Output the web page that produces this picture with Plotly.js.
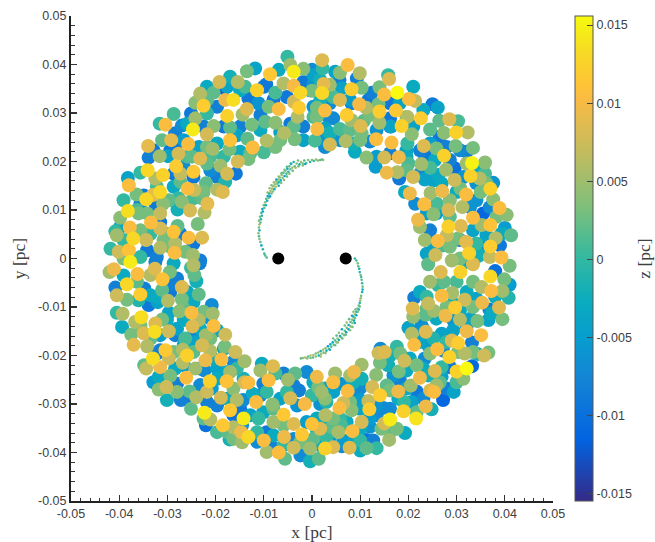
<!DOCTYPE html>
<html><head><meta charset="utf-8">
<script src="https://cdn.plot.ly/plotly-3.0.1.min.js"></script>
<style>html,body{margin:0;padding:0;background:#fff}#g{width:655px;height:542px}</style>
</head><body><div id="g"></div>
<script>
// All coordinates in milli-parsec
const nwX=[-5.1,-4.5,-3.8,-1.8,-11.8,-13.5,-8.7,-6.9,-17.0,-19.2,
-15.4,-18.3,-20.4,-23.2,-24.2,-22.5,-18.0,-16.3,-11.4,-9.5,
-7.6,-5.9,-3.8,-2.4,-1.8,-3.8,-2.7,-3.0,-6.9,-9.0,-11.1,-13.5,-14.4,-17.6,-12.5,-9.7,-7.6,-5.8,-3.6,-1.8,
-28.7,-25.1,-24.2,-27.0,-24.7,-30.4,-31.6,-20.4,-21.8,-17.0,
-31.1,-29.2,-34.0,-25.7,-26.6,-23.5,-20.6,-17.0,-17.1,-13.4,
-12.3,-9.4,-7.6,-10.0,-33.9,-31.6,-29.9,-27.7,-23.2,-24.9,
-28.2,-34.1,-35.6,-30.9,-32.5,-27.3,-24.6,-21.1,-19.0,-15.4,
-13.2,-17.6,-15.8,-18.0,-22.0,-24.6,-27.3,-28.7,-25.8,-24.4,
-18.5,-19.7,-38.2,-38.0,-36.4,-31.5,-33.0,-34.4,-39.1,-35.6,
-30.9,-27.0,-24.6,-22.8,-21.7,-27.9,-25.3,-22.3,-31.5,-38.2,
-39.8,-36.0,-32.2,-33.4,-23.7,-27.9,-37.8,-31.5,-28.7,-40.8,
-40.5,-37.1,-34.4,-25.6,-22.8,-30.8,-41.8,-40.1,-38.0,-35.6,
-31.5,-28.4,-28.5,-32.2,-26.3,-24.7,-23.2];
const nwY=[41.6,39.9,38.5,39.1,39.2,38.6,38.0,38.9,37.5,36.4,
36.4,35.1,34.2,34.0,32.1,31.5,32.7,32.7,34.7,35.9,
34.2,36.1,35.6,34.2,36.4,32.3,31.1,29.2,30.8,31.3,32.0,30.8,29.7,29.4,27.6,28.2,28.0,25.9,24.6,27.2,
29.8,29.9,28.9,27.4,26.6,27.6,27.8,27.3,25.6,27.0,
24.4,24.4,23.2,23.6,24.4,23.0,22.6,24.4,22.5,24.7,
22.9,24.3,23.0,21.9,20.8,21.1,21.1,21.6,20.6,21.0,
19.0,18.2,17.7,17.2,16.5,17.5,17.9,18.2,19.1,20.0,
20.5,17.5,17.5,15.8,15.5,16.8,15.8,14.8,14.4,14.1,
13.7,14.2,16.6,15.1,13.2,13.7,13.1,12.2,12.0,11.3,
11.3,11.7,12.4,12.4,11.3,10.1,9.9,9.5,9.3,9.8,
8.4,9.3,10.3,7.4,7.1,6.7,6.4,6.2,5.5,5.6,
4.8,4.1,3.8,4.3,4.3,3.8,2.0,1.4,1.7,0.3,
2.2,3.1,1.2,0.3,1.4,0.7,-0.4];
const nwZ=[0,5,14.5,4,-4,3,11.5,-3,-2,8,
6,-12,2,6,4,12,9.5,13.5,12.5,-9,
1,6,10,13,-9,8,12,6,10.5,3,-6,8.5,5,12.5,3,2,4,6,3,-8,
1,-9,5,-7,14.5,10.5,0,4,8,2,
2,9,9,10.5,-5,-4,5,11,3,2,
10.5,6,3,1,-8,5,-4,8,8.5,2,
12,13,0,12.5,6,7,11.5,-7,5,8,
3,8,-9,-1,2,-9,2,-3,10.5,7,
8.5,6,-4,10.5,3,13,9,13,0,-8,
4,4,1,2,9,-2,8,6,7,13.5,
4,3,-9,10.5,3,2,10.5,8,11,0,
5,13,7.5,10.5,8.5,3,0,7.5,11,0,
6,6,10.5,-8,3,5,-8];

const neX=[2.1,2.2,7.4,5.8,4.8,9.9,5.7,15.8,16.0,9.3,
21.0,17.7,15.0,14.0,12.4,10.3,8.2,3.7,2.4,2.1,
0,0.3,6.2,5.8,9.8,11.2,20.1,21.4,13.8,17.4,
14.0,2.7,1.0,3.4,0.3,7.2,8.2,10.8,10.1,10.3,
1.1,2.7,5.8,0.6,3.7,2.7,7.0,8.9,10.0,11.3,
13.3,12.0,14.0,16.4,16.2,18.6,19.8,22.6,20.7,25.0,
26.1,26.4,28.5,30.3,24.5,27.4,29.9,32.3,23.2,25.8,
29.8,33.4,16.5,19.8,15.0,18.0,19.6,13.2,23.4,27.4,
32.1,33.2,32.1,35.9,22.7,20.0,24.5,15.5,17.7,18.1,
21.0,23.4,26.2,27.8,29.6,32.9,34.8,35.9,29.6,37.6,
30.8,37.0,35.0,24.6,27.0,32.0,20.3,19.3,21.4,23.3,
25.9,37.6,28.6,28.3,31.2,25.2,35.5,38.9,40.4,33.4,
22.0,22.4,30.9,28.3,35.2,37.0,24.5,40.0,41.3,23.4,
26.1,28.0,30.3,32.0,34.1,36.2,38.1,37.0,39.0,23.8,
25.6,27.2,32.6,34.8,39.3,36.9,29.0,30.7];
const neY=[40.9,39.2,39.9,38.3,38.5,38.2,36.8,37.8,37.0,37.1,
35.4,34.2,33.8,35.3,34.2,35.2,34.9,35.8,36.0,34.1,
34.6,37.8,35.1,32.7,31.8,31.1,32.9,32.5,31.8,30.5,
30.3,30.5,31.1,29.2,29.2,29.6,28.5,28.4,27.3,25.8,
26.7,26.8,26.7,24.3,23.5,23.0,24.2,22.0,24.4,20.8,
24.6,24.1,28.0,27.2,28.9,27.3,29.2,28.9,25.6,31.8,
31.1,28.4,28.7,28.3,26.6,25.9,26.0,26.0,23.2,22.7,
23.2,22.8,23.9,23.7,20.8,20.9,22.3,18.9,21.3,21.2,
22.0,19.7,19.6,19.8,19.5,19.6,18.7,17.7,17.8,16.5,
16.8,16.3,17.2,18.3,18.6,17.0,16.5,17.5,16.2,15.6,
14.4,14.4,13.7,13.5,13.9,13.2,13.4,13.7,11.3,11.2,
11.3,12.2,12.0,10.0,10.6,9.1,9.3,10.4,9.0,8.4,
8.0,6.5,6.7,6.6,6.9,6.9,5.8,6.3,4.8,3.8,
3.6,4.8,4.1,3.4,3.1,4.8,4.2,2.5,2.7,1.0,
0.7,2.7,1.1,0.7,0.2,0.3,-0.4,0];
const neZ=[8.5,0,10.5,4,-4,6,-8,0,8.5,-8,
-3,15.5,10.5,3,-8,3,12,5,9,13,
3,-4,-4,8.5,10,6,10.5,7,3,11.5,
12,10.5,3,-7,1,12,5,2,8.5,3,
10.5,-4,1,1,8,-7,6,-3,3,4,
10.5,-7,5,-4,-9,12.5,6,12,4,-9,
-4,2,8.5,1,2,4,12.5,6,8.5,3,
3,3,10.5,0,8,9.5,-4,-5,-9,12.5,
-8,15,5,4,5,1,1,9.5,6,-9,
8,-4,-3,5,-10,12.5,6,1,7.5,-6,
3,12.5,3,5,9.5,10.5,9.5,-3,-7,10.5,
1,4,4,8,6,4,-11,10.5,4,10.5,
9.5,5,8.5,12.5,5,11,-8,-5,2,5,
10.5,7,3,9,0,-4,6,12,-9,-4,
7.5,1,12.5,-2,10.5,7,5,3];

const swX=[-37.7,-41.1,-42.0,-39.1,-36.2,-32.6,-33.5,-29.5,-31.0,-24.6,
-23.3,-24.4,-25.1,-38.4,-40.8,-34.8,-35.6,-40.5,-38.4,-36.0,
-28.8,-27.0,-31.1,-24.0,-23.5,-29.9,-27.0,-32.0,-33.9,-29.7,
-20.8,-40.5,-39.3,-20.6,-25.0,-27.5,-35.4,-36.7,-32.5,-31.1,
-39.4,-26.6,-24.8,-23.5,-20.4,-29.7,-32.6,-34.9,-37.5,-22.0,
-18.0,-28.4,-26.3,-37.0,-34.2,-19.7,-24.2,-22.8,-18.1,-30.4,
-26.8,-15.9,-21.1,-31.5,-25.9,-33.0,-29.7,-34.8,-34.4,-31.5,
-26.8,-22.1,-18.8,-14.0,-19.7,-24.2,-17.0,-15.6,-10.4,-8.1,
-10.7,-31.8,-29.4,-26.1,-22.3,-21.2,-17.7,-13.2,-14.0,-9.0,
-10.1,-7.6,-5.9,-5.0,-3.5,-1.1,1.0,-31.8,-30.2,-28.0,
-30.1,-25.4,-27.2,-24.0,-21.8,-16.3,-18.9,-15.6,-14.3,-25.1,
-12.3,-11.6,-8.2,-9.4,-4.5,-1.5,-2.7,-5.2,0,2.0,
-22.3,-17.0,-21.1,-14.2,-12.8,-11.1,-5.9,-3.8,0,-8.0,
-22.0,-18.5,-19.7,-16.3,-17.1,-14.7,-13.2,-14.5,-10.0,-11.4,
-5.8,-2.1,1.0,-9.4,-6.9,-8.3,-3.8,-5.6,-2.4,-0.4,
-0.4,1.4,-5.9];
const swY=[-0.7,-2.2,-2.8,0,-3.2,-2.1,-3.4,-2.8,-4.3,-1.4,
-1.0,-3.4,-1.9,-5.3,-6.0,-6.2,-7.4,-7.6,-8.5,-8.6,
-5.3,-5.9,-6.5,-4.7,-7.4,-8.7,-8.4,-9.0,-9.6,-11.2,
-9.6,-11.2,-11.4,-11.4,-11.2,-10.9,-12.1,-13.1,-13.4,-12.6,
-14.1,-12.7,-14.0,-12.7,-13.9,-15.0,-15.1,-15.4,-15.7,-15.8,
-15.7,-15.8,-16.5,-17.8,-18.1,-14.8,-17.2,-17.9,-18.2,-18.9,
-18.8,-19.3,-19.1,-18.9,-20.0,-20.6,-20.6,-22.0,-22.7,-22.4,
-21.5,-21.0,-20.8,-21.2,-22.7,-22.7,-23.4,-22.7,-21.7,-22.2,
-23.1,-24.4,-24.2,-24.6,-23.1,-25.3,-25.3,-25.6,-25.5,-25.1,
-25.8,-23.7,-23.7,-25.0,-23.7,-23.4,-24.4,-27.0,-26.5,-27.5,
-29.2,-27.4,-29.2,-28.6,-27.5,-26.8,-28.7,-29.2,-29.2,-31.0,
-27.9,-29.6,-30.1,-27.5,-28.8,-30.0,-27.2,-27.5,-28.2,-27.5,
-31.8,-31.3,-33.2,-33.0,-32.3,-33.0,-32.2,-34.1,-34.1,-33.7,
-34.4,-34.4,-35.8,-34.8,-37.3,-35.8,-36.8,-37.9,-37.5,-35.8,
-36.8,-36.3,-35.4,-39.9,-40.0,-38.9,-39.0,-41.3,-40.6,-39.2,
-41.8,-41.3,-38.5];
const swZ=[14.5,9.5,5,3,10.5,8.5,6,3,11,6,
-8,2,0,13,-8,-8,12,7.5,3,-1,
-8,8.5,2,-2,2,6,3,-4,-9,-4,
-7,0,6,5,10.5,4,13.5,6,8.5,3,
-3,-3,8.5,6,10.5,7.5,13.5,8.5,3,5,
7.5,-8,1,9,6,-4,-4,8,3,11.5,
6,7.5,6,-8,12.5,13.5,7.5,2,7,9.5,
6,9.5,10.5,5,-4,5,5,0,-3,8.5,
5,-3,3,10.5,-7,12.5,11,10.5,8,10.5,
-8,1,-8,5,2,-7,9.5,4,7.5,4,
-2,2,-8,6,7.5,4,8,6,-7,2,
-3,10.5,4,0,8,10,-8,0,0,5,
14.5,11.5,6,14.5,-4,0,11.5,8.5,11,5,
-10,11.5,1,6,-2,9.5,13,5,10.5,0,
9.5,11.5,0,5,10.5,-8,7.5,2,-7,5,
-2,2,0];

const seX=[41.0,33.4,30.8,26.7,24.1,24.5,27.4,37.0,38.0,39.9,
41.0,39.5,40.8,37.2,35.2,33.4,31.7,29.1,26.9,23.8,
24.1,21.2,29.7,25.3,23.6,20.9,21.0,27.7,30.7,35.3,
38.8,36.8,39.5,36.6,34.3,32.9,20.0,20.7,23.1,23.6,
25.2,21.2,29.3,32.1,35.1,33.2,27.9,30.3,29.0,14.2,
15.1,13.8,14.1,17.6,18.3,19.2,15.8,21.7,18.0,26.0,
24.5,23.4,31.7,28.5,34.3,36.6,35.7,26.9,25.5,33.2,
30.0,32.1,31.4,10.3,8.7,4.8,7.9,4.4,10.3,13.3,
22.4,18.2,20.5,10.0,12.5,7.4,25.8,24.5,25.3,21.7,
29.4,27.2,17.9,16.2,14.1,2.7,10.0,6.5,5.7,8.2,
11.7,11.9,14.8,19.1,23.6,24.8,19.0,21.7,21.6,2.8,
16.2,15.0,10.3,12.0,5.8,4.1,1.7,5.5,8.4,17.6,
19.3,16.0,2.0,2.7,4.4,6.2,7.8,11.2,12.7,11.3,
10.0,13.4,10.0,3.0];
const seY=[-1.5,-1.2,-2.8,-2.8,-1.2,-4.8,-4.8,-3.7,-2.6,-4.3,
-5.4,-6.7,-8.1,-6.7,-5.9,-4.8,-8.5,-7.1,-7.7,-7.9,
-9.3,-8.1,-10.1,-10.8,-11.6,-10.3,-12.0,-11.8,-12.6,-9.1,
-10.1,-10.5,-12.5,-12.7,-12.9,-12.4,-14.3,-15.5,-14.6,-15.1,
-16.5,-17.8,-14.8,-15.0,-15.8,-17.3,-17.2,-17.4,-16.9,-18.6,
-19.3,-19.5,-21.5,-18.2,-19.6,-21.1,-22.0,-22.0,-23.3,-18.7,
-19.6,-20.6,-19.6,-20.3,-19.7,-19.4,-20.0,-22.4,-23.2,-22.2,
-23.3,-22.7,-24.8,-21.9,-23.4,-23.7,-24.1,-25.5,-24.8,-24.0,
-24.6,-25.1,-26.2,-26.7,-26.5,-27.3,-26.2,-27.2,-27.5,-27.4,
-27.5,-29.2,-27.4,-27.2,-28.2,-28.9,-29.2,-29.8,-30.8,-31.3,
-29.4,-31.1,-30.8,-29.6,-30.5,-31.1,-31.5,-31.7,-33.0,-32.3,
-33.2,-34.0,-33.7,-34.7,-33.0,-34.8,-35.1,-35.8,-35.6,-35.1,
-36.0,-37.4,-37.5,-39.2,-38.9,-38.7,-39.0,-37.4,-37.5,-39.1,
-39.6,-39.1,-37.5,-36.8];
const seZ=[3,8.5,12.5,8.5,2,5,2,13,-10,3,
-5,5,-1,10.5,6,3,7.5,5.5,10.5,0,
7,-8,12,5,2,8.5,4.5,9.5,6,9.5,
8.5,-8,3,-4,3,-4,-4,6,-6,8.5,
-1,10.5,-4,9.5,10.5,-8,0,12,8.5,-7,
8.5,7.5,3,0,3,7.5,-2,3,3,10.5,
4,-7,6,12.5,-2,3,7.5,0,8.5,-11,
12.5,15.5,4,5,9.5,5,5.5,10.5,-2,4,
9.5,-8,5,-7,8,10.5,5,8.5,10.5,-9,
-4,-11,9.5,3,12,4,-5,7.5,10.5,4,
7,12,-7,0,9.5,-2,12.5,2,14,6,
14.5,8,8,-6,0,2,8.5,5.5,10.5,3,
-3,5,-3,12.5,8.5,-7,8.5,-10,-8,2,
-3,0,0,0];

// Discs mostly hidden under the others: only slivers of them show
const nwHiddenX=[-13.9,-10.0,-13.2,-21.8,-22.5,-18.3,-25.9,-29.4,-21.1,-18.3,
-15.6,-10.7,-6.6,-21.8,-19.7,-22.5,-32.2,-34.9,-28.7,-32.5,
-36.3,-27.7,-29.7,-34.2,-31.5,-35.6,-33.5,-30.1,-39.8,-37.3,
-29.4,-27.3,-24.6,-34.2,-39.1,-32.9,-28.0,-19.7,-14.9,-4.5,
-10.7,-8.0,-14.9,-17.6,-21.8,-19.7,-21.8,-25.9,-28.4,-21.8,
-26.6,-5.2,-0.4,0.3,1.0,0,-6.6,-3.8,-1.8,-12.8,-14.9];
const nwHiddenY=[35.4,35.4,33.0,29.9,27.2,27.2,21.0,22.3,21.0,21.0,
25.4,26.5,26.1,19.6,16.8,13.7,14.8,13.0,17.5,11.3,
10.0,12.4,12.0,9.3,7.5,5.8,5.1,5.1,6.5,5.8,
2.4,5.1,3.1,1.7,3.8,22.3,23.7,23.7,27.2,27.8,
29.6,32.7,34.7,35.4,35.4,31.3,32.7,27.8,25.8,23.0,
18.9,33.3,34.7,31.3,29.2,38.9,24.4,27.2,24.4,21.7,22.0];
const nwHiddenZ=[1,-9,-9,0,-8,-9,1,-9,1,0,
-4,-3,-4,2,-8,3,1,-9,-9,-9,
1,0,2,3,-9,3,0,3,-4,3,
3,-9,-9,-9,0,-9,-9,-3,-8,-9,
-8,-9,-3,-4,-3,-8,2,-3,-8,3,
-7,-9,-8,-6,3,-7,3,2,-4,2,-3];

const neHiddenX=[0.3,4.4,8.2,11.7,16.2,18.2,12.0,16.2,19.6,23.1,
21.0,24.5,26.5,27.9,22.4,19.6,13.4,16.2,25.5,28.6,
30.7,34.8,31.4,25.2,19.6,22.4,26.9,30.0,34.1,36.2,
34.1,36.9,32.8,25.8,23.8,28.6,33.4,30.7,28.6,34.1,
38.3,39.3,35.5,25.2,8.6,5.8,2.0,3.7,7.9,13.4,
4.4,7.9,3.7,1.7,1.7];
const neHiddenY=[36.1,33.3,32.0,32.7,32.0,32.0,29.6,27.2,29.2,30.6,
27.2,23.7,25.1,23.0,22.3,21.0,21.0,21.7,20.3,20.3,
22.3,18.2,16.8,16.1,18.2,17.5,15.5,13.7,15.5,15.5,
12.0,10.6,10.6,9.3,9.3,8.6,5.8,3.8,2.4,0.3,
8.6,5.1,3.1,3.1,23.7,24.4,24.4,25.8,26.5,26.5,
28.9,32.7,32.0,32.7,36.8];
const neHiddenZ=[-6,1,-8,-9,-9,-4,3,-7,3,-3,
-4,-5,-9,-8,-8,-3,-5,-8,-3,-8,
-7,-3,-6,-4,2,-7,-3,-3,-6,3,
-6,-7,-6,-5,-5,2,-4,-9,3,-2,
3,-3,-7,-4,-2,-6,-6,-2,2,-6,
-7,-5,-7,-2,-2];

const swHiddenX=[-32.5,-28.7,-28.0,-33.5,-36.3,-39.1,-32.2,-29.4,-25.9,-24.6,
-26.6,-22.5,-21.1,-30.1,-35.6,-28.0,-23.2,-31.5,-33.5,-24.6,
-21.1,-26.6,-32.2,-24.6,-28.7,-18.3,-20.4,-16.3,-23.2,-28.4,
-26.6,-17.6,-14.2,-19.7,-23.2,-28.0,-32.9,-25.6,-20.8,-17.6,
-21.8,-19.7,-14.9,-16.3,-10.7,-6.6,-3.8,-3.1,0.3,1.7,
-10.1,-8.0,-5.9,-9.4,-8.0,-11.4,-2.4,0.3,-1.1,-3.8,
1.0,-16.3,-17.6,-22.5,-14.5];
const swHiddenY=[-0.7,-1.0,-4.1,-7.6,-4.8,-3.5,-7.9,-6.9,-6.9,-9.0,
-10.3,-11.0,-12.4,-12.7,-13.8,-14.5,-14.5,-15.8,-16.5,-15.8,
-16.5,-17.9,-19.6,-19.3,-19.3,-18.6,-20.7,-21.3,-22.7,-22.7,
-22.0,-23.4,-24.8,-24.8,-26.1,-25.8,-25.5,-29.3,-26.8,-28.9,
-29.6,-30.3,-31.0,-32.3,-28.2,-28.9,-26.2,-30.3,-25.5,-30.0,
-31.7,-31.0,-34.4,-35.8,-36.5,-37.8,-37.9,-37.2,-33.7,-37.2,
-33.0,-37.2,-35.8,-33.0,-34.4];
const swHiddenZ=[-8,-3,-8,-3,2,-3,-3,-9,-3,-3,
2,3,-6,-3,3,-4,-3,-5,2,-8,
3,-3,-8,2,3,-4,-3,-7,-9,-3,
-5,-3,-2,-3,-7,-8,-5,-9,-5,-3,
-8,-8,-9,-10,-7,-4,-8,-6,-3,-6,
-3,2,3,-9,-3,-7,3,2,-5,-7,
-3,3,2,2,-6];

const seHiddenX=[32.1,30.0,26.2,22.4,23.8,29.3,34.1,38.0,33.4,30.7,
27.9,32.1,37.2,25.8,29.3,32.1,26.9,22.7,22.4,24.1,
27.2,30.3,33.4,16.2,20.3,23.1,19.6,24.1,28.6,26.9,
30.0,27.9,26.5,16.9,15.5,19.6,17.9,20.7,23.1,8.6,
5.8,2.7,4.4,1.3,3.0,8.2,7.9,10.0,13.4,16.2,
13.4,2.0,6.1,4.4,10.0,12.0,7.2,3.7,6.5,8.6,
14.4,16.2,1.7,1.3];
const seHiddenY=[-0.7,-4.8,-5.5,-6.9,-10.3,-9.3,-8.3,-7.9,-10.0,-10.7,
-10.0,-6.9,-11.4,-12.4,-12.7,-13.8,-15.5,-13.8,-17.2,-17.9,
-19.0,-19.3,-19.3,-20.0,-20.6,-22.7,-23.1,-24.1,-22.4,-24.4,
-25.5,-26.8,-25.5,-24.1,-26.2,-26.8,-28.9,-29.6,-28.9,-25.5,
-25.8,-26.8,-27.5,-26.5,-29.6,-28.2,-29.6,-31.0,-30.3,-31.0,
-32.3,-33.0,-34.4,-33.0,-35.1,-33.0,-33.7,-36.8,-37.5,-37.5,
-35.1,-35.8,-38.5,-36.8];
const seHiddenZ=[-3,1,0,-3,2,-2,-4,-3,3,-3,
3,-3,-3,-3,-6,-6,-4,-7,-4,-5,
-7,3,3,-2,-3,-3,-3,-2,-9,-4,
1,-8,2,-6,2,-3,-3,-4,-7,-2,
-6,-4,-4,3,-1,-7,3,-4,-6,-7,
-7,-3,1,3,-3,-5,-3,-5,-5,-4,
3,2,-3,-3];

const armAX=[-9.4,-9.7,-9.9,-10.2,-10.5,-10.7,-10.9,-11.0,-11.1,-10.9,-11.0,-10.9,-10.7,-11.0,-10.6,-10.8,-10.4,-10.5,-10.2,-10.3,-9.9,-10.0,-9.6,-9.7,-9.3,-9.5,-9.0,-9.2,-8.7,-8.9,-8.4,-8.6,-8.1,-8.3,-7.8,-8.0,-7.5,-7.7,-7.2,-7.4,-6.9,-7.0,-6.5,-6.7,-6.1,-6.3,-5.7,-5.9,-5.3,-5.5,-4.9,-5.1,-4.5,-4.7,-4.1,-4.3,-3.6,-3.8,-3.2,-2.9,-2.6,-2.3,-1.9,-1.6,-1.2,-0.8,-0.4,0,0.4,0.8,1.2,1.7,2.1,2.3,
-9.2,-8.8,-8.4,-7.9,-7.4,-6.9,-6.3,-5.7,-5.2,-4.4,-6.9,-6.4,-5.8,-5.2,-4.7,-4.0,-3.4,-2.8,-1.9,-1.4];
const armAY=[0.2,0.6,1.0,1.9,2.7,3.4,4.0,4.6,5.2,5.8,6.4,7.0,7.4,7.8,8.1,8.6,8.8,9.4,9.7,10.2,10.4,11.0,11.0,11.6,11.9,12.3,12.5,12.9,12.8,13.4,13.4,13.9,13.8,14.4,14.3,14.9,14.8,15.3,15.4,15.9,15.7,16.3,16.1,16.7,16.6,17.2,17.0,17.7,17.5,18.1,17.9,18.5,18.4,19.0,18.7,19.5,19.0,19.9,19.6,20.2,19.4,19.9,19.6,20.2,19.7,20.3,19.9,20.3,20.1,20.4,20.2,20.3,20.4,20.3,
13.6,14.5,15.1,15.7,16.3,16.9,17.6,18.3,18.9,19.6,15.0,15.6,16.2,16.9,17.5,18.1,18.7,19.0,19.2,19.5];
const armAZ=[1,2,0,-1,-3,2,4,1,4,-1,3,5,2,4,-2,3,-1,1,-3,-4,2,3,-2,4,-3,1,3,-4,-5,-4,2,5,4,6,-3,4,6,5,3,4,-2,5,-3,3,4,5,-4,2,1,3,-1,-4,3,2,5,0,2,-1,4,3,-2,5,3,1,2,4,-1,3,1,5,3,2,1,4,
4,5,3,5,-3,4,2,3,1,-1,-2,3,4,2,4,2,5,3,4,-3];
const armBX=[8.9,9.2,9.5,9.6,9.8,9.9,10.1,10.2,10.3,10.4,10.5,10.5,10.4,10.2,10.1,10.0,9.9,9.7,9.9,9.4,9.7,9.2,9.5,8.9,9.2,8.6,8.9,8.3,8.7,8.0,8.4,7.6,8.0,7.2,7.6,6.8,7.1,6.3,6.7,5.8,6.1,5.3,5.6,4.8,5.1,4.3,4.5,3.8,4.0,3.3,3.5,2.8,3.0,2.3,2.4,1.8,1.9,1.3,1.4,0.8,0.8,0.3,0.2,-0.3,-0.3,-0.8,-1.0,-1.4,-1.9,-2.3,
9.0,8.6,8.3,7.7,7.2,6.8,6.2,5.6,5.1,4.4,8.9,8.4,7.9,7.0,6.3,5.4,4.8,3.7,2.8,1.8];
const armBY=[0,-0.4,-1.0,-1.6,-2.1,-2.8,-3.4,-3.8,-4.4,-5.1,-5.8,-6.4,-6.9,-7.7,-8.2,-8.7,-9.2,-9.7,-9.9,-10.3,-10.5,-11.0,-11.0,-11.5,-11.7,-12.0,-12.3,-12.6,-12.8,-13.1,-13.3,-13.7,-14.0,-14.3,-14.6,-14.9,-15.2,-15.5,-15.8,-16.0,-16.3,-16.5,-16.8,-16.9,-17.3,-17.3,-17.8,-17.7,-18.2,-18.1,-18.6,-18.5,-19.0,-18.8,-19.4,-19.1,-19.7,-19.4,-20.0,-19.6,-20.2,-19.9,-20.4,-20.0,-20.5,-20.2,-20.6,-20.4,-20.5,-20.6,
-10.5,-11.0,-11.8,-12.5,-13.2,-13.8,-14.6,-15.3,-15.9,-16.5,-13.3,-14.1,-14.8,-15.7,-16.5,-17.3,-17.9,-18.8,-19.5,-20.2];
const armBZ=[0,1,3,2,-2,-1,3,1,2,0,3,-3,-2,3,4,5,-1,3,2,4,-3,-2,3,5,-4,-2,3,5,-3,2,4,-3,4,3,-4,2,-4,3,4,-3,2,4,-2,1,3,-4,3,-3,1,-5,2,4,-2,5,3,-1,5,4,-3,3,4,5,1,6,3,2,4,5,4,2,
3,4,-3,2,5,3,-3,4,2,3,-2,3,4,2,3,5,2,-3,4,5];

const holeX=[-7,7];
const holeY=[0,0];

const axisTicks=[-0.05,-0.04,-0.03,-0.02,-0.01,0,0.01,0.02,0.03,0.04,0.05];
const axisLabels=['-0.05','-0.04','-0.03','-0.02','-0.01','0','0.01','0.02','0.03','0.04','0.05'];
const barTicks=[-0.015,-0.01,-0.005,0,0.005,0.01,0.015];
const barLabels=['-0.015','-0.01','-0.005','0','0.005','0.01','0.015'];
const parula=[[0,'#352a87'],[0.127,'#0363e1'],[0.254,'#1485d4'],[0.333,'#079ccf'],[0.413,'#0aacbe'],[0.508,'#38b99e'],[0.603,'#7cbf7b'],[0.714,'#c0bc60'],[0.825,'#f8ba44'],[0.857,'#ffc337'],[0.921,'#f7d826'],[0.984,'#f6f313'],[1,'#f9fb0e']];

const ringX=[...nwX,...neX,...swX,...seX,...nwHiddenX,...neHiddenX,...swHiddenX,...seHiddenX];
const ringY=[...nwY,...neY,...swY,...seY,...nwHiddenY,...neHiddenY,...swHiddenY,...seHiddenY];
const ringZ=[...nwZ,...neZ,...swZ,...seZ,...nwHiddenZ,...neHiddenZ,...swHiddenZ,...seHiddenZ];
const order=ringZ.map((_,i)=>i).sort((a,b)=>ringZ[a]-ringZ[b]);
const pc=v=>v/1000;
const cmin=-0.01548,cmax=0.01558;
const sans='"Liberation Sans",Arial,sans-serif',serif='"Liberation Serif","Times New Roman",serif',ink='#404040';
const baseAxis={range:[-0.05,0.05],tickvals:axisTicks,ticktext:axisLabels,ticks:'inside',ticklen:6,tickwidth:1.3,tickcolor:'#333',
 showline:true,linecolor:'#222',linewidth:2,showgrid:false,zeroline:false,mirror:false,tickfont:{family:sans,size:12.5,color:ink},
 minor:{dtick:0.002,ticks:'inside',ticklen:3.5,tickwidth:1,tickcolor:'#333',showgrid:false}};
Plotly.newPlot('g',[
 {type:'scatter',mode:'markers',x:armAX.concat(armBX).map(pc),y:armAY.concat(armBY).map(pc),hoverinfo:'skip',showlegend:false,
  marker:{size:2.6,color:armAZ.concat(armBZ).map(pc),colorscale:parula,cmin,cmax,line:{width:0}}},
 {type:'scatter',mode:'markers',x:order.map(i=>pc(ringX[i])),y:order.map(i=>pc(ringY[i])),hoverinfo:'skip',showlegend:false,
  marker:{size:14,color:order.map(i=>pc(ringZ[i])),colorscale:parula,cmin,cmax,opacity:1,line:{width:0},
   colorbar:{x:1.0456,xref:'paper',xanchor:'left',xpad:0,ypad:0,y:0.5,yanchor:'middle',len:1,lenmode:'fraction',thickness:18.4,thicknessmode:'pixels',
    tickmode:'array',tickvals:barTicks,ticktext:barLabels,ticks:'inside',ticklen:6,tickwidth:1,tickcolor:'#444',
    outlinecolor:'#555',outlinewidth:1,tickfont:{family:sans,size:12.5,color:ink}}}},
 {type:'scatter',mode:'markers',x:holeX.map(pc),y:holeY.map(pc),hoverinfo:'skip',showlegend:false,marker:{size:12,color:'#000'}}
],{
 width:655,height:542,margin:{l:70.7,r:101.7,t:16,b:41.3,pad:0},paper_bgcolor:'#fff',plot_bgcolor:'#fff',showlegend:false,hovermode:false,
 xaxis:{...baseAxis,title:{text:'x [pc]',font:{family:serif,size:17.5,color:ink},standoff:6}},
 yaxis:{...baseAxis,title:{text:'y [pc]',font:{family:serif,size:17.5,color:ink},standoff:8}},
 annotations:[{text:'z [pc]',xref:'paper',yref:'paper',x:1.187,y:0.5,xanchor:'center',yanchor:'middle',textangle:-90,showarrow:false,font:{family:serif,size:17.5,color:ink}}]
},{displayModeBar:false,staticPlot:true});
</script></body></html>
